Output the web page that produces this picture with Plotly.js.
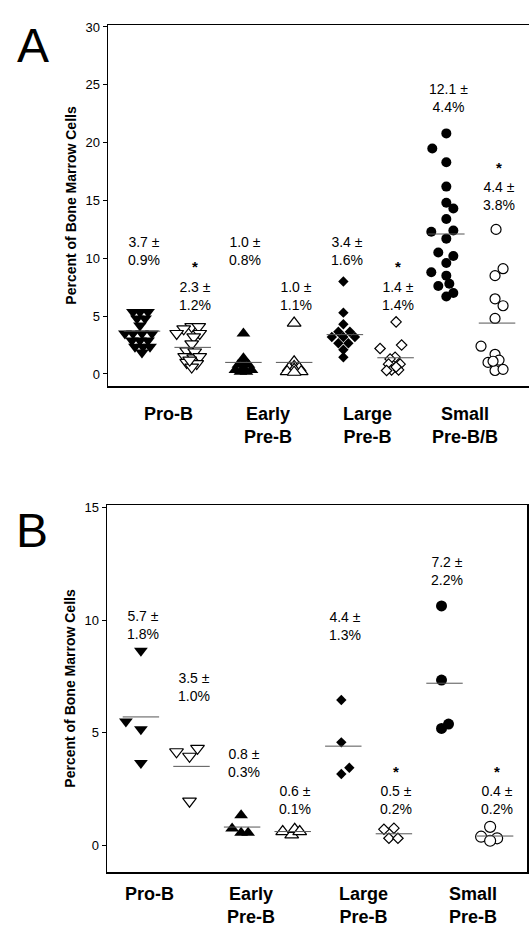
<!DOCTYPE html>
<html>
<head>
<meta charset="utf-8">
<script src="https://cdn.plot.ly/plotly-3.0.1.min.js"></script>
<style>html,body{margin:0;padding:0;background:#fff;}#chart{width:529px;height:934px;}</style>
</head>
<body>
<div id="chart"></div>
<script>
// ---------- DATA ----------
const categoriesA = ['Pro-B', 'Early<br>Pre-B', 'Large<br>Pre-B', 'Small<br>Pre-B/B'];
const categoriesB = ['Pro-B', 'Early<br>Pre-B', 'Large<br>Pre-B', 'Small<br>Pre-B'];

// Panel A values (percent of bone marrow cells), filled = first of each pair, open = second
const A_proB_filled  = [5.35, 5.35, 5.35, 4.8, 4.8, 4.2, 3.5, 3.5, 3.5, 3.5, 2.9, 2.9, 2.9, 2.35, 2.35, 2.35, 1.85];
const A_proB_open    = [4.1, 4.1, 3.9, 3.5, 3.5, 3.2, 2.6, 2.0, 1.9, 1.5, 1.4, 1.5, 1.0, 0.9, 0.6, 1.2];
const A_early_filled = [3.5, 1.35, 0.95, 0.8, 0.8, 0.35, 0.35, 0.35, 0.2, 0.2];
const A_early_open   = [4.4, 1.05, 0.65, 0.5, 0.5, 0.4, 0.2, 0.2, 0.15];
const A_large_filled = [8.0, 5.3, 4.3, 3.65, 3.65, 3.2, 3.2, 3.2, 2.65, 2.65, 2.1, 1.45];
const A_large_open   = [4.5, 2.2, 2.5, 1.45, 1.3, 0.85, 0.85, 0.35, 0.35, 0.6, 0.3];
const A_small_filled = [20.8, 19.5, 18.3, 16.2, 14.8, 14.3, 13.4, 12.3, 12.4, 11.7, 10.5, 10.2, 9.6, 8.8, 8.5, 7.6, 7.8, 7.0, 6.7];
const A_small_open   = [12.5, 9.1, 8.5, 6.5, 5.9, 4.8, 2.4, 1.7, 1.0, 1.2, 0.3, 0.4, 1.1];
const meansA = [3.7, 2.3, 1.0, 1.0, 3.4, 1.4, 12.1, 4.4];
const sdsA   = [0.9, 1.2, 0.8, 1.1, 1.6, 1.4, 4.4, 3.8];
const starA  = [false, true, false, false, false, true, false, true];

// Panel B values
const B_proB_filled  = [8.65, 5.5, 5.15, 3.65];
const B_proB_open    = [4.15, 3.95, 4.3, 1.95];
const B_early_filled = [1.33, 0.74, 0.55, 0.55];
const B_early_open   = [0.6, 0.45, 0.7, 0.6];
const B_large_filled = [6.45, 4.57, 3.44, 3.16];
const B_large_open   = [0.7, 0.75, 0.3, 0.3];
const B_small_filled = [10.64, 7.34, 5.19, 5.38];
const B_small_open   = [0.81, 0.37, 0.3, 0.19];
const meansB = [5.7, 3.5, 0.8, 0.6, 4.4, 0.5, 7.2, 0.4];
const sdsB   = [1.8, 1.0, 0.3, 0.1, 1.3, 0.2, 2.2, 0.2];
const starB  = [false, false, false, false, false, true, false, true];

// ---------- horizontal scatter offsets (pixels) ----------
const jitA = [
  [-9, -2, 6, -5, 3, -2, -17, -9, 0, 10, -10, -2, 6, -7, 1, 8, 0],
  [-1, 6, -9, -16, 7, 1, -1, -6, 2, -8, 1, 7, -6, 4, -1, -3],
  [0, 0, 0, -5, 5, -8, 0, 8, -3, 3],
  [0, 0, 0, -5, 5, 0, -7, 7, 0],
  [-1.5, -1.5, -1.5, -6.5, 5, -13, -1.5, 10, -6.5, 3.5, -1.5, -1.5],
  [0.5, -15.5, 6, -0.5, -5.5, -7, 4.5, -4, 3, 0.5, -9],
  [0, -14, 0, 0, 0, 7, 0, -15, 7, 0, -8, 7, 0, -15, 0, -8, 3, 7, 0],
  [-1, 6, -2, -2, 6, -2, -16, -2, -9, 2, -2, 6, -4]
];
const jitB = [
  [0, -15, 0, 0],
  [-15, -2, 6, -2],
  [-1, -10, -1, 6],
  [-10, -1, 2, 7],
  [-2, -2, 6, -2],
  [-10, 0, -5, 4],
  [-3, -3, -3, 4],
  [-5, -14, 2, -5]
];

const seriesA = [A_proB_filled, A_proB_open, A_early_filled, A_early_open, A_large_filled, A_large_open, A_small_filled, A_small_open];
const seriesB = [B_proB_filled, B_proB_open, B_early_filled, B_early_open, B_large_filled, B_large_open, B_small_filled, B_small_open];

// ---------- STYLE ----------
const FONT = 'Liberation Sans, Arial, Helvetica, sans-serif';
const symbols = ['triangle-down', 'triangle-down', 'triangle-up', 'triangle-up', 'diamond', 'diamond', 'circle', 'circle'];
const filled = [true, false, true, false, true, false, true, false];
const sizeA = [12, 12, 12, 12, 8, 8, 10, 10];
const sizeB = [12, 12, 12, 12, 8, 8, 11, 11];
const PX_PER_UNIT = 50.6;
const W = 529, H = 934;

const traces = [];
function addPanel(series, jit, means, sizes, xa, ya) {
  series.forEach((vals, i) => {
    traces.push({
      type: 'scatter', mode: 'markers', xaxis: xa, yaxis: ya,
      x: vals.map((v, k) => i + jit[i][k] / PX_PER_UNIT),
      y: vals,
      marker: {
        symbol: symbols[i], size: sizes[i],
        color: filled[i] ? '#000' : '#fff',
        line: {color: '#000', width: filled[i] ? 0 : 1.2}
      },
      hoverinfo: 'y', showlegend: false
    });
  });
  means.forEach((m, i) => {
    traces.push({
      type: 'scatter', mode: 'lines', xaxis: xa, yaxis: ya,
      x: [i - 0.36, i + 0.36], y: [m, m],
      line: {color: '#555', width: 1},
      hoverinfo: 'skip', showlegend: false
    });
  });
}
addPanel(seriesA, jitA, meansA, sizeA, 'x', 'y');
addPanel(seriesB, jitB, meansB, sizeB, 'x2', 'y2');

// label positions (data units)
const labelYA = [10.63, 6.74, 10.63, 6.74, 10.6, 6.74, 23.82, 15.35];
const starYA  = [0, 8.45, 0, 0, 0, 8.45, 0, 17.05];
const labelYB = [9.77, 7.01, 3.65, 2.0, 9.75, 2.0, 12.19, 2.0];
const starYB  = [0, 0, 0, 0, 0, 2.85, 0, 2.85];
const catXA = [0.53, 2.49, 4.44, 6.37];
const catXB = [0.16, 2.18, 4.4, 6.56];

const annotations = [];
function addLabels(means, sds, stars, labelY, starY, xr, yr) {
  means.forEach((m, i) => {
    annotations.push({
      xref: xr, yref: yr, x: i, y: labelY[i], xshift: 2, xanchor: 'center', yanchor: 'middle',
      text: m.toFixed(1) + ' \u00B1<br>' + sds[i].toFixed(1) + '%',
      showarrow: false, font: {family: FONT, size: 14, color: '#000'}, align: 'center'
    });
    if (stars[i]) {
      annotations.push({
        xref: xr, yref: yr, x: i, y: starY[i], xshift: 2, xanchor: 'center', yanchor: 'bottom',
        text: '<b>*</b>', showarrow: false, font: {family: FONT, size: 15, color: '#000'}, borderpad: 0
      });
    }
  });
}
addLabels(meansA, sdsA, starA, labelYA, starYA, 'x', 'y');
addLabels(meansB, sdsB, starB, labelYB, starYB, 'x2', 'y2');

categoriesA.forEach((c, i) => annotations.push({
  xref: 'x', yref: 'paper', x: catXA[i], y: (H - 402) / H, xanchor: 'center', yanchor: 'top',
  text: '<b>' + c.replace('<br>', '</b><br><b>') + '</b>', showarrow: false,
  font: {family: FONT, size: 18, color: '#000'}, align: 'center'
}));
categoriesB.forEach((c, i) => annotations.push({
  xref: 'x2', yref: 'paper', x: catXB[i], y: (H - 882) / H, xanchor: 'center', yanchor: 'top',
  text: '<b>' + c.replace('<br>', '</b><br><b>') + '</b>', showarrow: false,
  font: {family: FONT, size: 18, color: '#000'}, align: 'center'
}));

annotations.push({xref: 'paper', yref: 'paper', x: 33 / W, y: (H - 45) / H, xanchor: 'center', yanchor: 'middle',
  text: 'A', showarrow: false, font: {family: FONT, size: 48, color: '#000'}});
annotations.push({xref: 'paper', yref: 'paper', x: 32 / W, y: (H - 530) / H, xanchor: 'center', yanchor: 'middle',
  text: 'B', showarrow: false, font: {family: FONT, size: 48, color: '#000'}});

const xBase = {
  showline: true, linecolor: '#000', linewidth: 1.5, showticklabels: false, ticks: '',
  showgrid: false, zeroline: false, range: [-0.67, 7.63], fixedrange: true
};
const yBase = {
  showline: true, linecolor: '#000', linewidth: 1.5, ticks: 'outside', ticklen: 4, tickwidth: 1,
  tickcolor: '#000', showgrid: false, zeroline: false, fixedrange: true,
  tickfont: {family: FONT, size: 13, color: '#000'},
  title: {text: '<b>Percent of Bone Marrow Cells</b>', font: {family: FONT, size: 14, color: '#000'}, standoff: 5}
};

const layout = {
  width: W, height: H,
  margin: {l: 0, r: 0, t: 0, b: 0},
  paper_bgcolor: '#fff', plot_bgcolor: '#fff',
  font: {family: FONT, color: '#000'},
  showlegend: false,
  xaxis: Object.assign({}, xBase, {domain: [108 / W, 1], mirror: true, anchor: 'y'}),
  yaxis: Object.assign({}, yBase, {domain: [(H - 386) / H, (H - 25) / H], range: [-1.04, 30.17],
    tickvals: [0, 5, 10, 15, 20, 25, 30], anchor: 'x'}),
  xaxis2: Object.assign({}, xBase, {domain: [107 / W, 527 / W], mirror: true, anchor: 'y2'}),
  yaxis2: Object.assign({}, yBase, {domain: [(H - 872) / H, (H - 505) / H], range: [-1.2, 15.13],
    tickvals: [0, 5, 10, 15], mirror: true, anchor: 'x2'}),
  annotations: annotations
};

Plotly.newPlot('chart', traces, layout, {staticPlot: true, displayModeBar: false});
</script>
</body>
</html>
